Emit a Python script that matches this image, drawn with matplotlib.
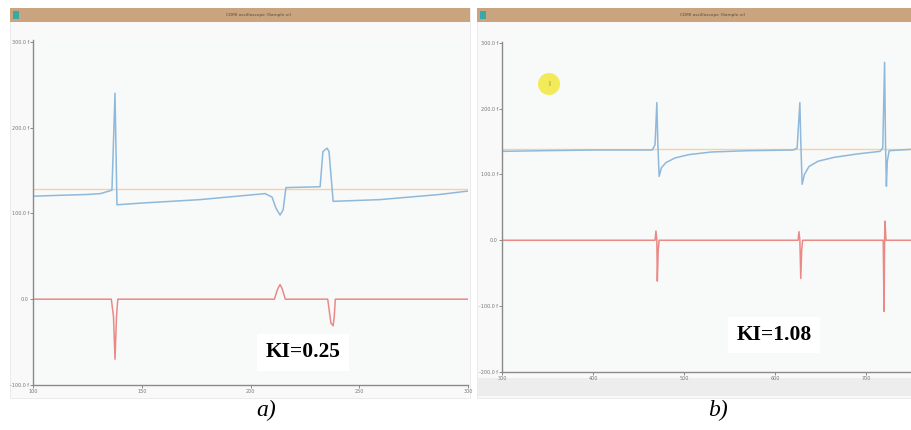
import numpy as np
import matplotlib.pyplot as plt
from matplotlib.patches import Rectangle, Ellipse

# ---- data ----
# panel a)
a_time_blue = [100, 112, 125, 131, 136.3, 137.7, 138.6, 150, 176.8, 206.7, 209.9, 211.7, 213.6,
               215, 216.3, 232, 233.3, 235.2, 236.1, 238, 259.5, 287, 300]
a_blue = [120, 121, 122, 123, 127, 240, 110, 112, 116, 123, 119, 106, 98,
          104, 130, 131, 172, 176, 172, 114, 116, 122, 126]
a_time_ref = [100, 300]
a_ref = [128, 128]
a_time_red = [100, 136, 137, 137.7, 138.4, 139, 211, 212.5, 213.6, 214.6, 216,
              235.5, 236.3, 237, 238, 238.5, 239, 300]
a_red = [0, 0, -20, -70, -20, 0, 0, 12, 17, 12, 0,
         0, -15, -28, -31, -20, 0, 0]

# panel b)
b_time_blue = [300, 345, 400, 465, 468, 470, 471, 472.5, 475, 480, 490, 505, 530, 570,
               620, 624, 627, 628, 629.5, 632, 637, 647, 665, 690, 715,
               718, 720, 721, 722, 723, 725, 749]
b_blue = [135, 136, 137, 137, 145, 209, 150, 97, 110, 118, 125, 130, 134, 136,
          137, 140, 209, 150, 85, 100, 112, 120, 126, 131, 135,
          140, 270, 150, 82, 120, 136, 138]
b_time_ref = [300, 749]
b_ref = [138, 138]
b_time_red = [300, 468, 469, 470, 470.5, 471.5, 472.5, 625, 626, 627, 628, 629, 630,
              718.5, 719, 719.5, 720, 720.5, 721.5, 749]
b_red = [0, 0, 14, 0, -62, -15, 0, 0, 13, 0, -58, -15, 0,
         0, -60, -108, 0, 29, 0, 0]

a_yticks = [-100, 0, 100, 200, 300]
b_yticks = [-200, -100, 0, 100, 200, 300]
a_xticks = [100, 150, 200, 250, 300]
b_xticks = [300, 400, 500, 600, 700]

W, H = 911, 430
fig = plt.figure(figsize=(W / 100, H / 100), dpi=100)
fig.patch.set_facecolor('white')


def box(x, y, w, h):
    # pixel box (top-left origin) -> figure fraction
    return [x / W, 1 - (y + h) / H, w / W, h / H]


def rect(x, y, w, h, color, **kw):
    r = Rectangle((x / W, 1 - (y + h) / H), w / W, h / H, transform=fig.transFigure,
                  facecolor=color, zorder=-5, **kw)
    fig.patches.append(r)


def ylab(v):
    if v == 0:
        return '0.0'
    return f'{v:.1f} f'


# window backgrounds and title bars
for x0, x1, title in [(10, 470, 'CDMI oscilloscope (Sample.vi)'),
                      (477, 911, 'CDMI oscilloscope (Sample.vi)')]:
    rect(x0, 8, x1 - x0, 390, '#f9f9f9', edgecolor='#e8e8e8', lw=0.6)
    rect(x0, 8, x1 - x0, 14, '#c9a47f', edgecolor='none')
    rect(x0 + 3, 11, 6, 8, '#3aa9a5', edgecolor='none')
    fig.text((x0 + x1) / 2 / W + 0.02, 1 - 15 / H, title, fontsize=3.2,
             color='#5a4a3a', ha='center', va='center')

# bottom gray band of right window
rect(477, 378, 434, 18, '#ededed', edgecolor='none')


def setup(ax, yticks, xticks, ylim, xlim):
    ax.set_zorder(2)
    ax.set_facecolor('#f8f9f9')
    ax.set_ylim(*ylim)
    ax.set_xlim(*xlim)
    for s in ['top', 'right']:
        ax.spines[s].set_visible(False)
    for s in ['left', 'bottom']:
        ax.spines[s].set_color('#8a8a8a')
        ax.spines[s].set_linewidth(1.0)
    ax.set_yticks(yticks)
    ax.set_yticklabels([ylab(v) for v in yticks])
    ax.set_xticks(xticks)
    ax.set_xticklabels([str(v) for v in xticks])
    ax.tick_params(labelsize=3.5, colors='#777777', length=2, width=0.6, pad=1)


ax1 = fig.add_axes(box(33, 40, 435, 345))
setup(ax1, a_yticks, a_xticks, (-100, 302), (100, 300))
ax1.plot(a_time_ref, a_ref, color='#f3d2a6', lw=1.0)
ax1.plot(a_time_blue, a_blue, color='#8fb9da', lw=1.1)
ax1.plot(a_time_red, a_red, color='#ea8a86', lw=1.1)
ax1.text(0.62, 0.095, 'KI=0.25', transform=ax1.transAxes, fontsize=15.5,
         fontweight='bold', family='Liberation Serif', ha='center', va='center',
         bbox=dict(facecolor='white', edgecolor='none', pad=6))

ax2 = fig.add_axes(box(502, 42, 409, 330))
setup(ax2, b_yticks, b_xticks, (-200, 301), (300, 749))
ax2.plot(b_time_ref, b_ref, color='#f3d2a6', lw=1.0)
ax2.plot(b_time_blue, b_blue, color='#8fb9da', lw=1.1)
ax2.plot(b_time_red, b_red, color='#ea8a86', lw=1.1)
ax2.text(0.665, 0.112, 'KI=1.08', transform=ax2.transAxes, fontsize=15.5,
         fontweight='bold', family='Liberation Serif', ha='center', va='center',
         bbox=dict(facecolor='white', edgecolor='none', pad=6))

# yellow cursor highlight
ax2.add_patch(Ellipse((549 / W, 1 - 84 / H), 22 / W, 22 / H, transform=fig.transFigure,
                      facecolor='#f3ea5a', edgecolor='none', zorder=5))
ax2.text(549 / W, 1 - 84 / H, 'I', transform=fig.transFigure, fontsize=5,
         color='#888866', ha='center', va='center', zorder=6)

fig.text(266 / W, 1 - 410 / H, 'a)', fontsize=17, style='italic',
         family='Liberation Serif', ha='center', va='center')
fig.text(718 / W, 1 - 410 / H, 'b)', fontsize=17, style='italic',
         family='Liberation Serif', ha='center', va='center')

fig.savefig('out.png', dpi=100)
